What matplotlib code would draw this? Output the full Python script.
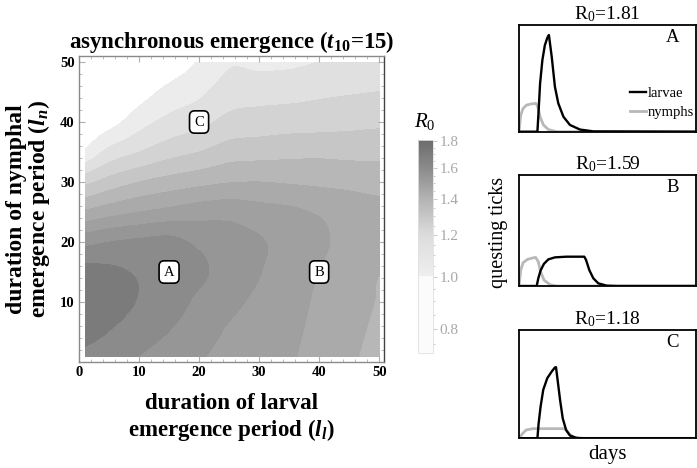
import numpy as np
import matplotlib
matplotlib.use("Agg")
import matplotlib.pyplot as plt
from matplotlib.colors import BoundaryNorm, ListedColormap, LogNorm, LinearSegmentedColormap
from matplotlib.cm import ScalarMappable
from matplotlib.patches import Rectangle
from matplotlib.ticker import FixedLocator, NullFormatter

plt.rcParams.update({
    "font.family": "Liberation Serif",
    "mathtext.fontset": "custom",
    "mathtext.rm": "Liberation Serif",
    "mathtext.it": "Liberation Serif:italic",
    "mathtext.bf": "Liberation Serif:bold",
    "mathtext.bfit": "Liberation Serif:italic:bold",
})

# ----------------------------------------------------------------------
# R0 surface on a 5-day grid
# rows: nymphal period l_n (0..50), columns: larval period l_l (0..50)
# ----------------------------------------------------------------------
ll_grid = [0, 5, 10, 15, 20, 25, 30, 35, 40, 45, 50]
ln_grid = [0, 5, 10, 15, 20, 25, 30, 35, 40, 45, 50]
r0_grid = [
    [1.88, 1.85, 1.795, 1.75, 1.705, 1.675, 1.645, 1.61, 1.565, 1.513, 1.475],
    [1.93, 1.90, 1.85, 1.80, 1.74, 1.69, 1.655, 1.62, 1.575, 1.525, 1.485],
    [1.95, 1.94, 1.895, 1.85, 1.78, 1.725, 1.68, 1.635, 1.585, 1.54, 1.495],
    [1.935, 1.92, 1.89, 1.86, 1.82, 1.755, 1.705, 1.65, 1.598, 1.555, 1.503],
    [1.765, 1.80, 1.82, 1.83, 1.78, 1.745, 1.71, 1.66, 1.615, 1.575, 1.56],
    [1.51, 1.56, 1.60, 1.63, 1.655, 1.665, 1.64, 1.62, 1.59, 1.56, 1.535],
    [1.26, 1.34, 1.40, 1.44, 1.47, 1.495, 1.50, 1.49, 1.48, 1.47, 1.46],
    [1.00, 1.13, 1.20, 1.26, 1.30, 1.35, 1.36, 1.37, 1.375, 1.37, 1.37],
    [0.90, 0.96, 1.06, 1.13, 1.17, 1.23, 1.245, 1.255, 1.26, 1.27, 1.28],
    [0.82, 0.86, 0.95, 1.03, 1.08, 1.15, 1.16, 1.165, 1.18, 1.19, 1.20],
    [0.75, 0.78, 0.85, 0.94, 1.01, 1.09, 1.08, 1.085, 1.10, 1.10, 1.105],
]
levels = [0.0, 1.0, 1.1, 1.2, 1.3, 1.4, 1.5, 1.6, 1.7, 1.8, 1.9, 2.5]
band_colors = ["#ffffff", "#ececec", "#e0e0e0", "#d3d3d3", "#c6c6c6", "#b7b7b7",
               "#aaaaaa", "#a0a0a0", "#969696", "#8b8b8b", "#7b7b7b"]

# labelled points
pt_names = ["A", "B", "C"]
pt_ll = [15, 40, 20]
pt_ln = [15, 15, 40]
pt_r0 = ["1.81", "1.59", "1.18"]

# colour bar
cb_ticks = [0.8, 1.0, 1.2, 1.4, 1.6, 1.8]
cb_minor = [0.75, 0.85, 0.9, 0.95, 1.05, 1.1, 1.15, 1.25, 1.3, 1.35, 1.45,
            1.5, 1.55, 1.65, 1.7, 1.75]

# ----------------------------------------------------------------------
# questing tick curves (panel width = 100 days, height = 1)
# ----------------------------------------------------------------------
nym_a_days = [0, 1.0, 2.3, 4.2, 7.1, 9.6, 10.6, 11.9, 13.8, 16.6, 21.3, 100]
nym_a = [0, 0.156, 0.218, 0.249, 0.261, 0.265, 0.234, 0.14, 0.063, 0.02, 0, 0]
lar_a_days = [0, 10.4, 11.1, 11.9, 13.2, 14.6, 16.0, 16.9, 18.5, 20.3, 22.2,
              25.1, 28.8, 34.5, 42.0, 100]
lar_a = [0, 0, 0.20, 0.45, 0.67, 0.81, 0.88, 0.906, 0.70, 0.42, 0.266,
         0.14, 0.063, 0.02, 0.003, 0]

nym_b_days = [0, 1.0, 2.3, 4.8, 7.6, 9.4, 10.9, 12.2, 14.1, 17.5, 21.3, 100]
nym_b = [0, 0.144, 0.21, 0.24, 0.252, 0.258, 0.219, 0.129, 0.054, 0.012, 0, 0]
lar_b_days = [0, 10.0, 10.9, 12.2, 14.1, 16.6, 20.3, 26.9, 36.9, 37.9, 39.7,
              42.0, 44.8, 49.5, 55.2, 100]
lar_b = [0, 0, 0.069, 0.14, 0.20, 0.24, 0.258, 0.264, 0.264, 0.234, 0.144,
         0.069, 0.024, 0.003, 0, 0]

nym_c_days = [0, 2.1, 4.1, 7.9, 25.1, 26.6, 28.5, 30.7, 34.5, 100]
nym_c = [0, 0.046, 0.077, 0.089, 0.089, 0.077, 0.040, 0.012, 0, 0]
lar_c_days = [0, 10.4, 11.1, 12.2, 13.7, 16.0, 18.5, 20.3, 20.9, 21.8, 23.2,
              24.7, 26.6, 28.8, 32.6, 38.3, 100]
lar_c = [0, 0, 0.139, 0.293, 0.448, 0.556, 0.617, 0.654, 0.657, 0.54, 0.355,
         0.185, 0.077, 0.025, 0.003, 0, 0]

W, H = 697, 468
fig = plt.figure(figsize=(W / 100, H / 100), dpi=100)


def px_axes(left, top, right, bottom):
    return fig.add_axes([left / W, 1 - bottom / H, (right - left) / W, (bottom - top) / H])


# ---------------------------- contour map -----------------------------
ax = px_axes(79, 56, 384, 362)
half = (ll_grid[1] - ll_grid[0]) / 2
cmap = ListedColormap(band_colors)
norm = BoundaryNorm(levels, cmap.N)
im = ax.imshow(np.array(r0_grid), origin="lower", cmap=cmap, norm=norm,
               extent=(ll_grid[0] - half, ll_grid[-1] + half, ln_grid[0] - half, ln_grid[-1] + half),
               interpolation="catrom", interpolation_stage="data", aspect="auto")
im.set_clip_path(Rectangle((1, 0.8), 49, 49.2, transform=ax.transData))
ax.set_xlim(0, 50.8)
ax.set_ylim(0, 51)

for name, x, y in zip(pt_names, pt_ll, pt_ln):
    ax.text(x, y, name, ha="center", va="center", fontsize=10.5,
            bbox=dict(boxstyle="round,pad=0.32,rounding_size=0.35", fc="white", ec="black", lw=1.2))

ax.set_xticks([0, 10, 20, 30, 40, 50])
ax.set_yticks([10, 20, 30, 40, 50])
ax.set_xticks(range(0, 51, 2), minor=True)
ax.set_yticks(range(0, 51, 2), minor=True)
ax.tick_params(which="both", direction="in", color="#b0b0b0", top=True, right=True,
               labelsize=10.5, pad=3)
ax.tick_params(which="major", length=4, width=0.8)
ax.tick_params(which="minor", length=2, width=0.6)
for lab in ax.get_xticklabels() + ax.get_yticklabels():
    lab.set_fontweight("bold")
for s in ax.spines.values():
    s.set_color("#8a8a8a")
    s.set_linewidth(1.0)
ax.spines["right"].set_color("#444444")

ax.set_title(r"asynchronous emergence ($\mathbfit{t}_{\mathbf{10}}$=15)",
             fontsize=16.5, fontweight="bold", pad=6)
ax.set_xlabel("duration of larval\nemergence period ($\\mathbfit{l}_{\\mathbfit{l}}$)",
              fontsize=16.5, fontweight="bold", linespacing=1.15, labelpad=10)
ax.set_ylabel("duration of nymphal\nemergence period ($\\mathbfit{l}_{\\mathbfit{n}}$)",
              fontsize=17, fontweight="bold", linespacing=0.95, labelpad=6)

# ---------------------------- colour bar ------------------------------
cax = px_axes(418, 140, 433, 353)
cb_norm = LogNorm(0.72, 1.81)
cb_nodes = [0.72, 1.0, 1.0, 1.2, 1.4, 1.6, 1.81]
cb_cols = ["#fbfbfb", "#fbfbfb", "#efefef", "#dcdcdc", "#b4b4b4", "#8c8c8c", "#6c6c6c"]
pos = [float(cb_norm(v)) for v in cb_nodes]
pos[2] += 0.002
cb_cmap = LinearSegmentedColormap.from_list("r0bar", list(zip(pos, cb_cols)))
cb = fig.colorbar(ScalarMappable(norm=cb_norm, cmap=cb_cmap), cax=cax)
cb.set_ticks(cb_ticks, labels=[f"{t:.1f}" for t in cb_ticks])
cax.yaxis.set_minor_locator(FixedLocator(cb_minor))
cax.yaxis.set_minor_formatter(NullFormatter())
cax.tick_params(which="both", colors="#c0c0c0", labelcolor="#a8a8a8", width=0.6)
cax.tick_params(which="major", length=3, labelsize=11, pad=1.5)
cax.tick_params(which="minor", length=1.5)
cb.outline.set_edgecolor("#e0e0e0")
cb.outline.set_linewidth(0.6)
fig.text(425 / W, 1 - 122 / H, r"$R_{\mathrm{0}}$", ha="center", va="center", fontsize=15)

# ---------------------------- time series -----------------------------
panel_px = [(519, 25, 696, 131.7), (519, 175, 696, 286), (519, 330, 696, 438.3)]
series = [(nym_a_days, nym_a, lar_a_days, lar_a),
          (nym_b_days, nym_b, lar_b_days, lar_b),
          (nym_c_days, nym_c, lar_c_days, lar_c)]
for i, (box, (nd, nv, ld, lv)) in enumerate(zip(panel_px, series)):
    pax = px_axes(*box)
    pax.plot(nd, nv, color="#b8b8b8", lw=2.0, label="nymphs", zorder=2)
    pax.plot(ld, lv, color="black", lw=1.7, label="larvae", zorder=3)
    pax.set_xlim(0, 100)
    pax.set_ylim(0, 1)
    pax.set_xticks([])
    pax.set_yticks([])
    for s in pax.spines.values():
        s.set_linewidth(1.3)
    pax.set_title(r"R$_0$=" + pt_r0[i], fontsize=14, pad=4)
    pax.text(0.868, 0.885, pt_names[i], transform=pax.transAxes, ha="center",
             va="center", fontsize=13.5)
    if i == 0:
        h, lab = pax.get_legend_handles_labels()
        pax.legend(h[::-1], lab[::-1], loc="center right", bbox_to_anchor=(1.02, 0.27),
                   frameon=False, fontsize=10.5, handlelength=1.1, handletextpad=0.1,
                   labelspacing=0.35, borderaxespad=0)

fig.text(498 / W, 1 - 232 / H, "questing ticks", rotation=90, ha="center", va="center",
         fontsize=14.5)
fig.text(607.5 / W, 1 - 455 / H, "days", ha="center", va="center", fontsize=15)

fig.savefig("out.png", dpi=100)
